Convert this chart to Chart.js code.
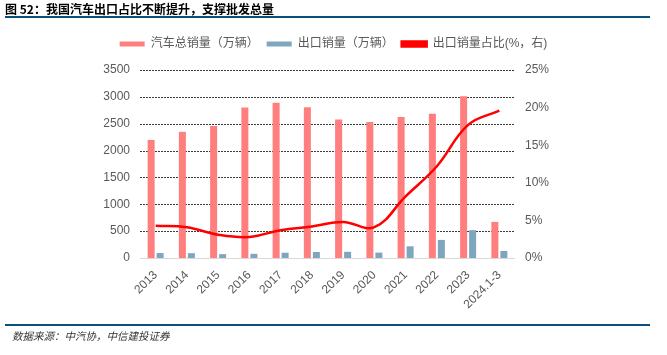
<!DOCTYPE html>
<html>
<head>
<meta charset="utf-8">
<script src="https://cdn.jsdelivr.net/npm/chart.js@4.4.1/dist/chart.umd.min.js"></script>
<style>
  html, body { margin: 0; padding: 0; background: #fff; }
  #wrap { position: relative; width: 667px; height: 355px; overflow: hidden; }
  #chart { position: absolute; left: 0; top: 0; }
  .title { position: absolute; left: 5px; top: 0px; font: bold 12px "Noto Sans CJK SC", sans-serif; color: #000; }
  .rule { position: absolute; left: 5px; width: 645px; height: 2px; background: #0b4f7c; }
  .source { position: absolute; left: 12px; top: 328px; font: italic 10.5px "Noto Sans CJK SC", sans-serif; color: #333; }
</style>
</head>
<body>
<div id="wrap">
  <canvas id="chart" width="667" height="355"></canvas>
  <div class="title">图 52：我国汽车出口占比不断提升，支撑批发总量</div>
  <div class="rule" style="top:16px"></div>
  <div class="rule" style="top:324px"></div>
  <div class="source">数据来源：中汽协，中信建投证券</div>
</div>
<script>
// categories and series
const years = ["2013", "2014", "2015", "2016", "2017", "2018", "2019", "2020", "2021", "2022", "2023", "2024.1-3"];
const totalSales = [2198, 2349, 2459, 2803, 2888, 2808, 2577, 2531, 2627, 2686, 3009, 672];
const exportSales = [92, 90, 72, 78, 98, 112, 115, 100, 218, 337, 518, 131];
const exportShare = [4.3, 4.1, 3.1, 2.8, 3.7, 4.2, 4.8, 4.1, 8.2, 12.2, 17.7, 19.6];

const leftTicks = [0, 500, 1000, 1500, 2000, 2500, 3000, 3500];
const rightTicks = [0, 5, 10, 15, 20, 25];

const FONT = "'Liberation Sans', 'Noto Sans CJK SC', sans-serif";

// push the plot area down a bit below the legend
const legendGap = {
  id: "legendGap",
  beforeInit(chart) {
    const fit = chart.legend.fit;
    chart.legend.fit = function () {
      fit.call(this);
      this.height += 10;
    };
  }
};

// dotted dark grid lines from the left axis ticks, light grey base line at 0
const gridLines = {
  id: "gridLines",
  beforeDatasetsDraw(chart) {
    const { ctx, chartArea } = chart;
    const yScale = chart.scales.y;
    ctx.save();
    ctx.lineWidth = 1;
    yScale.ticks.forEach(t => {
      const y = Math.round(yScale.getPixelForValue(t.value)) + 0.5;
      ctx.beginPath();
      if (t.value === 0) {
        ctx.setLineDash([]);
        ctx.strokeStyle = "#d9d9d9";
      } else {
        ctx.setLineDash([2, 1]);
        ctx.strokeStyle = "#3a3a3a";
      }
      ctx.moveTo(chartArea.left, y);
      ctx.lineTo(chartArea.right, y);
      ctx.stroke();
    });
    ctx.restore();
  }
};

const ctx = document.getElementById("chart").getContext("2d");
new Chart(ctx, {
  data: {
    labels: years,
    datasets: [
      {
        type: "bar",
        label: "汽车总销量（万辆）",
        data: totalSales,
        backgroundColor: "#ff7f7f",
        yAxisID: "y",
        order: 2
      },
      {
        type: "bar",
        label: "出口销量（万辆）",
        data: exportSales,
        backgroundColor: "#7fa6bf",
        yAxisID: "y",
        order: 2
      },
      {
        type: "line",
        label: "出口销量占比(%，右)",
        data: exportShare,
        borderColor: "#ff0000",
        backgroundColor: "#ff0000",
        borderWidth: 2.5,
        pointRadius: 0,
        tension: 0.4,
        yAxisID: "y1",
        order: 1
      }
    ]
  },
  options: {
    responsive: false,
    animation: false,
    datasets: {
      bar: { categoryPercentage: 0.576, barPercentage: 0.78 }
    },
    layout: { padding: { top: 30, left: 0, right: 0, bottom: 0 } },
    plugins: {
      tooltip: { enabled: false },
      legend: {
        position: "top",
        labels: {
          boxWidth: 25,
          boxHeight: 5,
          padding: 8,
          color: "#595959",
          font: { family: FONT, size: 12 },
          sort: (a, b) => a.datasetIndex - b.datasetIndex
        }
      }
    },
    scales: {
      x: {
        grid: { display: false },
        border: { display: false },
        ticks: {
          color: "#595959",
          font: { family: FONT, size: 12 },
          minRotation: 45,
          maxRotation: 45,
          padding: 2
        },
        afterFit: s => { s.height = 97; }
      },
      y: {
        position: "left",
        min: 0,
        max: 3500,
        afterBuildTicks: s => { s.ticks = leftTicks.map(v => ({ value: v })); },
        grid: { display: false, drawTicks: false },
        border: { display: false },
        ticks: {
          color: "#595959",
          font: { family: FONT, size: 12 },
          padding: 10,
          callback: v => String(v)
        },
        afterFit: s => { s.width = 140; }
      },
      y1: {
        position: "right",
        min: 0,
        max: 25,
        afterBuildTicks: s => { s.ticks = rightTicks.map(v => ({ value: v })); },
        grid: { display: false, drawTicks: false },
        border: { display: false },
        ticks: {
          color: "#595959",
          font: { family: FONT, size: 12 },
          padding: 10,
          callback: v => v + "%"
        },
        afterFit: s => { s.width = 152; }
      }
    }
  },
  plugins: [legendGap, gridLines]
});
</script>
</body>
</html>
